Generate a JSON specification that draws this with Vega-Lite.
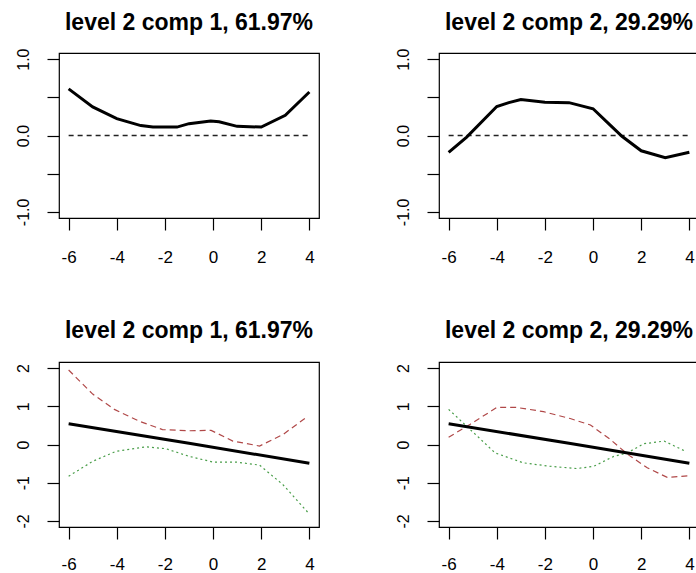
{
  "$schema": "https://vega.github.io/schema/vega-lite/v6.json",
  "background": "white",
  "padding": {"left": 14, "top": 11, "right": 0, "bottom": 0},
  "config": {
    "font": "Liberation Sans",
    "view": {"stroke": "black", "strokeWidth": 1.2, "fill": null},
    "axis": {"grid": false, "domain": false, "tickColor": "black", "tickSize": 12, "tickWidth": 1.2, "labelColor": "black", "labelFontSize": 16, "labelFont": "Liberation Sans", "title": null, "labelOverlap": false, "labelFlush": false},
    "title": {"fontSize": 23, "fontWeight": "bold", "font": "Liberation Sans", "color": "black", "baseline": "alphabetic", "offset": 13, "anchor": "middle"}
  },
  "datasets": {
    "zero": [{"x": -6, "y": 0}, {"x": 4, "y": 0}],
    "tl": [{"x": -6, "y": 0.61}, {"x": -5, "y": 0.375}, {"x": -4, "y": 0.22}, {"x": -3, "y": 0.13}, {"x": -2.5, "y": 0.11}, {"x": -1.5, "y": 0.11}, {"x": -1, "y": 0.155}, {"x": -0.1, "y": 0.19}, {"x": 0.25, "y": 0.18}, {"x": 1, "y": 0.12}, {"x": 2, "y": 0.11}, {"x": 3, "y": 0.265}, {"x": 4, "y": 0.57}],
    "tr": [{"x": -6, "y": -0.22}, {"x": -5.25, "y": -0.02}, {"x": -4, "y": 0.38}, {"x": -3.5, "y": 0.43}, {"x": -3, "y": 0.47}, {"x": -2, "y": 0.435}, {"x": -1, "y": 0.43}, {"x": 0, "y": 0.35}, {"x": 0.7, "y": 0.14}, {"x": 1.2, "y": -0.01}, {"x": 2, "y": -0.2}, {"x": 3, "y": -0.29}, {"x": 4, "y": -0.22}],
    "mean": [{"x": -6, "y": 0.545}, {"x": -1, "y": 0.03}, {"x": 4, "y": -0.49}],
    "bl_up": [{"x": -6, "y": 1.95}, {"x": -5, "y": 1.32}, {"x": -4.1, "y": 0.92}, {"x": -3.07, "y": 0.61}, {"x": -2.1, "y": 0.39}, {"x": -1, "y": 0.36}, {"x": -0.08, "y": 0.37}, {"x": 0.82, "y": 0.09}, {"x": 1.93, "y": -0.04}, {"x": 2.9, "y": 0.26}, {"x": 3.9, "y": 0.72}],
    "bl_lo": [{"x": -6, "y": -0.83}, {"x": -5, "y": -0.44}, {"x": -4.04, "y": -0.18}, {"x": -2.79, "y": -0.06}, {"x": -1.96, "y": -0.11}, {"x": -1, "y": -0.31}, {"x": 0, "y": -0.46}, {"x": 0.96, "y": -0.46}, {"x": 1.93, "y": -0.54}, {"x": 2.9, "y": -1.05}, {"x": 4, "y": -1.82}],
    "br_up": [{"x": -6, "y": 0.19}, {"x": -5.1, "y": 0.53}, {"x": -4, "y": 0.97}, {"x": -3.17, "y": 0.97}, {"x": -2.06, "y": 0.86}, {"x": -0.95, "y": 0.68}, {"x": -0.11, "y": 0.51}, {"x": 0.72, "y": 0.13}, {"x": 1.42, "y": -0.25}, {"x": 2.25, "y": -0.61}, {"x": 3.08, "y": -0.86}, {"x": 4, "y": -0.82}],
    "br_lo": [{"x": -6, "y": 0.92}, {"x": -5.25, "y": 0.48}, {"x": -4.07, "y": -0.22}, {"x": -2.9, "y": -0.48}, {"x": -1.8, "y": -0.57}, {"x": -0.67, "y": -0.63}, {"x": 0.03, "y": -0.57}, {"x": 0.86, "y": -0.31}, {"x": 1.42, "y": -0.22}, {"x": 2.11, "y": 0.02}, {"x": 2.95, "y": 0.09}, {"x": 3.78, "y": -0.16}]
  },
  "columns": 2,
  "spacing": {"row": 144, "column": 120},
  "bounds": "flush",
  "concat": [
    {
      "width": 260, "height": 165,
      "title": {"text": "level 2 comp 1, 61.97%"},
      "encoding": {
        "x": {"field": "x", "type": "quantitative", "scale": {"domain": [-6.4, 4.4], "nice": false, "zero": false}, "axis": {"values": [-6, -4, -2, 0, 2, 4], "labelPadding": 32, "labelFontSize": 17, "labelAngle": 0, "labelAlign": "center", "labelBaseline": "alphabetic", "labelExpr": "replace(datum.label, '\u2212', '-')"}},
        "y": {"field": "y", "type": "quantitative", "scale": {"domain": [-1.08, 1.08], "nice": false, "zero": false}, "axis": {"values": [-1, -0.5, 0, 0.5, 1], "labelAngle": 270, "labelAlign": "center", "labelBaseline": "alphabetic", "labelPadding": 19, "labelExpr": "abs(datum.value) == 0.5 ? '' : replace(format(datum.value, '.1f'), '\u2212', '-')"}}
      },
      "layer": [
        {"data": {"name": "zero"}, "mark": {"type": "line", "color": "#222222", "strokeWidth": 1.3, "strokeDash": [5, 4]}},
        {"data": {"name": "tl"}, "mark": {"type": "line", "color": "black", "strokeWidth": 3}}
      ]
    },
    {
      "width": 260, "height": 165,
      "title": {"text": "level 2 comp 2, 29.29%"},
      "encoding": {
        "x": {"field": "x", "type": "quantitative", "scale": {"domain": [-6.4, 4.4], "nice": false, "zero": false}, "axis": {"values": [-6, -4, -2, 0, 2, 4], "labelPadding": 32, "labelFontSize": 17, "labelAngle": 0, "labelAlign": "center", "labelBaseline": "alphabetic", "labelExpr": "replace(datum.label, '\u2212', '-')"}},
        "y": {"field": "y", "type": "quantitative", "scale": {"domain": [-1.08, 1.08], "nice": false, "zero": false}, "axis": {"values": [-1, -0.5, 0, 0.5, 1], "labelAngle": 270, "labelAlign": "center", "labelBaseline": "alphabetic", "labelPadding": 19, "labelExpr": "abs(datum.value) == 0.5 ? '' : replace(format(datum.value, '.1f'), '\u2212', '-')"}}
      },
      "layer": [
        {"data": {"name": "zero"}, "mark": {"type": "line", "color": "#222222", "strokeWidth": 1.3, "strokeDash": [5, 4]}},
        {"data": {"name": "tr"}, "mark": {"type": "line", "color": "black", "strokeWidth": 3}}
      ]
    },
    {
      "width": 260, "height": 165,
      "title": {"text": "level 2 comp 1, 61.97%", "offset": 19},
      "encoding": {
        "x": {"field": "x", "type": "quantitative", "scale": {"domain": [-6.4, 4.4], "nice": false, "zero": false}, "axis": {"values": [-6, -4, -2, 0, 2, 4], "labelPadding": 30, "labelFontSize": 17, "labelAngle": 0, "labelAlign": "center", "labelBaseline": "alphabetic", "labelExpr": "replace(datum.label, '\u2212', '-')"}},
        "y": {"field": "y", "type": "quantitative", "scale": {"domain": [-2.16, 2.16], "nice": false, "zero": false}, "axis": {"values": [-2, -1, 0, 1, 2], "labelAngle": 270, "labelAlign": "center", "labelBaseline": "alphabetic", "labelPadding": 19, "labelExpr": "replace(datum.label, '\u2212', '-')"}}
      },
      "layer": [
        {"data": {"name": "bl_up"}, "mark": {"type": "line", "color": "#b04848", "strokeWidth": 1.2, "strokeDash": [6, 4]}},
        {"data": {"name": "bl_lo"}, "mark": {"type": "line", "color": "#4a9e4a", "strokeWidth": 1.2, "strokeDash": [2, 3]}},
        {"data": {"name": "mean"}, "mark": {"type": "line", "color": "black", "strokeWidth": 3}}
      ]
    },
    {
      "width": 260, "height": 165,
      "title": {"text": "level 2 comp 2, 29.29%", "offset": 19},
      "encoding": {
        "x": {"field": "x", "type": "quantitative", "scale": {"domain": [-6.4, 4.4], "nice": false, "zero": false}, "axis": {"values": [-6, -4, -2, 0, 2, 4], "labelPadding": 30, "labelFontSize": 17, "labelAngle": 0, "labelAlign": "center", "labelBaseline": "alphabetic", "labelExpr": "replace(datum.label, '\u2212', '-')"}},
        "y": {"field": "y", "type": "quantitative", "scale": {"domain": [-2.16, 2.16], "nice": false, "zero": false}, "axis": {"values": [-2, -1, 0, 1, 2], "labelAngle": 270, "labelAlign": "center", "labelBaseline": "alphabetic", "labelPadding": 19, "labelExpr": "replace(datum.label, '\u2212', '-')"}}
      },
      "layer": [
        {"data": {"name": "br_up"}, "mark": {"type": "line", "color": "#b04848", "strokeWidth": 1.2, "strokeDash": [6, 4]}},
        {"data": {"name": "br_lo"}, "mark": {"type": "line", "color": "#4a9e4a", "strokeWidth": 1.2, "strokeDash": [2, 3]}},
        {"data": {"name": "mean"}, "mark": {"type": "line", "color": "black", "strokeWidth": 3}}
      ]
    }
  ]
}
